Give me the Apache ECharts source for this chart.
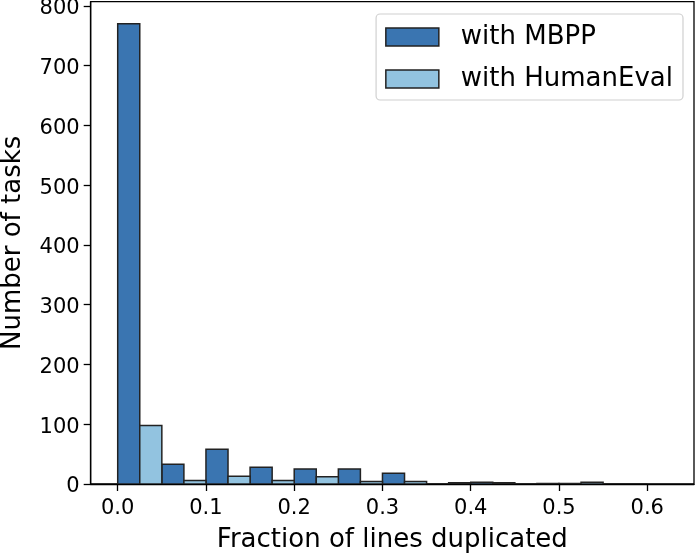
<!DOCTYPE html>
<html>
<head>
<meta charset="utf-8">
<script src="https://cdn.jsdelivr.net/npm/echarts@6/dist/echarts.min.js"></script>
<style>
html,body{margin:0;padding:0;background:#fff;}
#chart{width:697px;height:554px;}
</style>
</head>
<body>
<div id="chart"></div>
<script>
// histogram bin edges (width 0.05), each bin split between the two series
const binEdges = [0, 0.05, 0.1, 0.15, 0.2, 0.25, 0.3, 0.35, 0.4, 0.45, 0.5, 0.55, 0.6];
const mbppCounts = [770, 33, 58, 28, 25, 25, 18, 0, 3, 0, 1, 0];
const humanEvalCounts = [98, 6, 13, 6, 12, 4, 4, 2, 2, 1, 3, 0];
const xTicks = [0, 0.1, 0.2, 0.3, 0.4, 0.5, 0.6];
const yTicks = [0, 100, 200, 300, 400, 500, 600, 700, 800];
const seriesNames = ['with MBPP', 'with HumanEval'];

function buildBars(counts, slot) {
  const out = [];
  for (let i = 0; i < counts.length; i++) {
    const a = binEdges[i], b = binEdges[i + 1];
    const mid = (a + b) / 2;
    out.push(slot === 0 ? [a, mid, counts[i]] : [mid, b, counts[i]]);
  }
  return out;
}

function renderBar(params, api) {
  const p0 = api.coord([api.value(0), 0]);
  const p1 = api.coord([api.value(1), api.value(2)]);
  return {
    type: 'rect',
    shape: { x: p0[0], y: p1[1], width: p1[0] - p0[0], height: p0[1] - p1[1] },
    style: api.style()
  };
}

const FONT = 'DejaVu Sans';
const chart = echarts.init(document.getElementById('chart'));
chart.setOption({
  animation: false,
  backgroundColor: '#fff',
  textStyle: { fontFamily: FONT, color: '#000' },
  grid: { left: 90.7, top: 1.7, right: 3, bottom: 70, containLabel: false, outerBoundsMode: 'none',
          show: true, borderColor: '#000', borderWidth: 1.3, backgroundColor: 'transparent' },
  legend: {
    orient: 'vertical',
    right: 14, top: 14,
    padding: [10, 10, 8, 9],
    itemWidth: 53, itemHeight: 18, itemGap: 16,
    icon: 'rect',
    borderColor: '#d0d0d0', borderWidth: 1.2, borderRadius: 4,
    backgroundColor: '#fff',
    textStyle: { fontFamily: FONT, fontSize: 26, color: '#000', padding: [0, 0, 0, 17], lineHeight: 18 },
    data: [
      { name: seriesNames[0], itemStyle: { borderColor: '#222', borderWidth: 1.5 } },
      { name: seriesNames[1], itemStyle: { borderColor: '#222', borderWidth: 1.5 } }
    ]
  },
  xAxis: {
    type: 'value', min: -0.0306, max: 0.653,
    name: 'Fraction of lines duplicated', nameLocation: 'middle', nameGap: 43,
    nameTextStyle: { fontFamily: FONT, fontSize: 26, color: '#000' },
    axisLine: { show: true, onZero: false, lineStyle: { color: '#000', width: 1.3 } },
    axisTick: { show: true, length: 7, lineStyle: { color: '#000', width: 1.3 }, customValues: xTicks },
    axisLabel: { fontFamily: FONT, fontSize: 21, color: '#000', margin: 14, customValues: xTicks, formatter: v => v.toFixed(1) },
    splitLine: { show: false }
  },
  yAxis: {
    type: 'value', min: 0, max: 807,
    name: 'Number of tasks', nameLocation: 'middle', nameGap: 64, nameRotate: 90,
    nameTextStyle: { fontFamily: FONT, fontSize: 26, color: '#000' },
    axisLine: { show: true, onZero: false, lineStyle: { color: '#000', width: 1.3 } },
    axisTick: { show: true, length: 7, lineStyle: { color: '#000', width: 1.3 }, customValues: yTicks },
    axisLabel: { fontFamily: FONT, fontSize: 21, color: '#000', margin: 11, customValues: yTicks,
                 verticalAlign: 'top', lineHeight: 6 },
    splitLine: { show: false }
  },
  series: [
    {
      name: seriesNames[0], type: 'custom', renderItem: renderBar, clip: true,
      itemStyle: { color: '#3a75b1', borderColor: '#222', borderWidth: 1.5 },
      encode: { x: [0, 1], y: 2 },
      data: buildBars(mbppCounts, 0)
    },
    {
      name: seriesNames[1], type: 'custom', renderItem: renderBar, clip: true,
      itemStyle: { color: '#92c3e0', borderColor: '#222', borderWidth: 1.5 },
      encode: { x: [0, 1], y: 2 },
      data: buildBars(humanEvalCounts, 1)
    }
  ]
});
</script>
</body>
</html>
